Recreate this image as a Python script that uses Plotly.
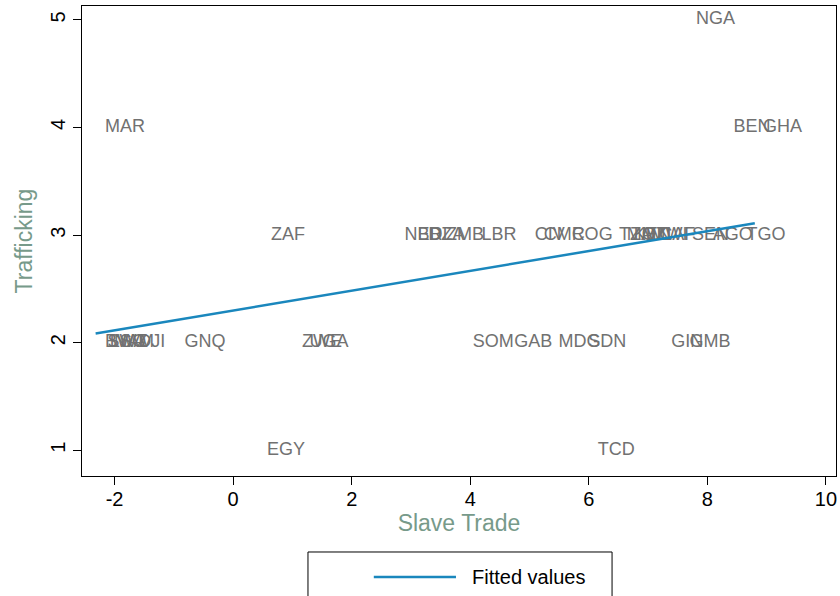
import plotly.graph_objects as go

# country labels and values (slave trade, trafficking)
codes = ["NGA", "MAR", "BEN", "GHA",
         "ZAF", "NER", "BDI", "DZA", "ZMB", "LBR",
         "CIV", "CMR", "COG", "TZA", "MOZ", "KEN", "MLI", "MWI", "CAF", "SEN", "AGO", "TGO",
         "BWA", "SWZ", "LSO", "NAM", "DJI", "GNQ", "ZWE", "UGA",
         "SOM", "GAB", "MDG", "SDN", "GIN", "GMB",
         "EGY", "TCD"]
slave_trade = [7.81, -2.16, 8.44, 8.94,
               0.64, 2.89, 3.11, 3.29, 3.59, 4.19,
               5.09, 5.24, 5.71, 6.51, 6.64, 6.76, 6.89, 7.04, 7.19, 7.74, 8.09, 8.66,
               -2.16, -2.12, -2.08, -2.01, -1.60, -0.82, 1.16, 1.29,
               4.04, 4.74, 5.49, 5.99, 7.39, 7.70,
               0.57, 6.15]
trafficking = [5, 4, 4, 4,
               3, 3, 3, 3, 3, 3,
               3, 3, 3, 3, 3, 3, 3, 3, 3, 3, 3, 3,
               2, 2, 2, 2, 2, 2, 2, 2,
               2, 2, 2, 2, 2, 2,
               1, 1]

# fitted line endpoints
fit_x = [-2.32, 8.80]
fit_y = [2.084, 3.11]

x_ticks = [-2, 0, 2, 4, 6, 8, 10]
x_tick_labels = ["-2", "0", "2", "4", "6", "8", "10"]
y_ticks = [1, 2, 3, 4, 5]

fig = go.Figure()
fig.add_trace(go.Scatter(
    x=slave_trade, y=trafficking, mode="text", text=codes,
    textposition="middle right",
    textfont=dict(family="Liberation Sans", size=18, color="#717171"),
    showlegend=False, hoverinfo="text"))
fig.add_trace(go.Scatter(
    x=fit_x, y=fit_y, mode="lines", name="Fitted values",
    line=dict(color="#1a87bd", width=2.5), showlegend=False))

font_family = "Liberation Sans, Arial"
fig.update_layout(
    width=840, height=596,
    margin=dict(l=82, r=4, t=6, b=120),
    paper_bgcolor="white", plot_bgcolor="white",
    font=dict(family=font_family, color="black"),
    xaxis=dict(range=[-2.55, 10.17], tickvals=x_ticks, ticktext=x_tick_labels,
               ticks="outside", ticklen=8, automargin=False, ticklabelstandoff=-3,
               tickcolor="black", showline=True, linecolor="black", linewidth=1.3,
               mirror=True, showgrid=False, zeroline=False,
               tickfont=dict(family=font_family, size=20, color="black"),
               title=dict(text="Slave Trade", font=dict(family=font_family, size=23, color="#779a8a"),
                          standoff=0)),
    yaxis=dict(range=[0.76, 5.13], tickvals=y_ticks, ticks="outside", ticklen=8,
               automargin=False,
               tickcolor="black", showline=True, linecolor="black", linewidth=1.3,
               mirror=True, showgrid=False, zeroline=False, tickangle=-90,
               tickfont=dict(family=font_family, size=20, color="black"),
               title=dict(text="Trafficking", font=dict(family=font_family, size=23, color="#779a8a"),
                          standoff=7)),
    shapes=[
        dict(type="rect", xref="paper", yref="paper", x0=0.2997, x1=0.703,
             y0=-0.2700, y1=-0.1617, line=dict(color="black", width=1), fillcolor="white"),
        dict(type="line", xref="paper", yref="paper", x0=0.387, x1=0.496,
             y0=-0.2149, y1=-0.2149, line=dict(color="#1a87bd", width=2.5)),
    ],
    annotations=[
        dict(text="Fitted values", xref="paper", yref="paper", x=0.5146, y=-0.2149,
             xanchor="left", yanchor="middle", showarrow=False,
             font=dict(family=font_family, size=20, color="black")),
    ],
)

fig.write_html("out.html", config={"displayModeBar": False},
               post_script="document.body.style.margin='0';")
